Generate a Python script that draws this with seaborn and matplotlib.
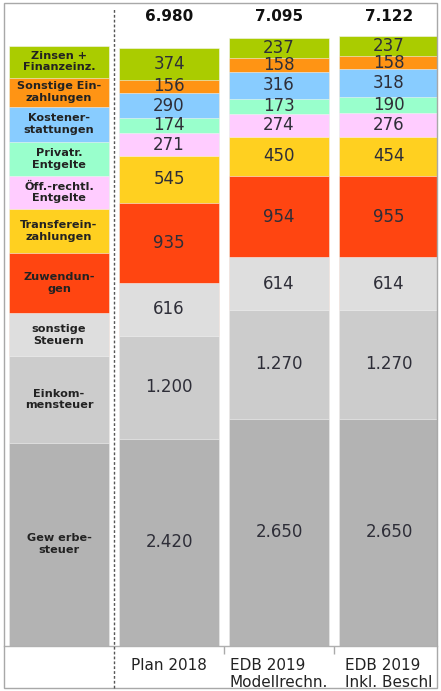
import matplotlib
matplotlib.use("Agg")
import matplotlib.pyplot as plt
import matplotlib.transforms as mtransforms
from matplotlib.patches import Rectangle
from matplotlib.lines import Line2D
import numpy as np
import seaborn as sns

# ---------------- data ----------------
columns = ["", "Plan 2018", "EDB 2019\nModellrechn.", "EDB 2019\nInkl. Beschl"]
series = ["Gewerbesteuer", "Einkommensteuer", "sonstige Steuern", "Zuwendungen",
          "Transfereinzahlungen", "Öff.-rechtl. Entgelte", "Privatr. Entgelte",
          "Kostenerstattungen", "Sonstige Einzahlungen", "Zinsen + Finanzeinz."]
legend_labels = ["Gew erbe-\nsteuer", "Einkom-\nmensteuer", "sonstige\nSteuern",
                 "Zuwendun-\ngen", "Transferein-\nzahlungen", "Öff.-rechtl.\nEntgelte",
                 "Privatr.\nEntgelte", "Kostener-\nstattungen", "Sonstige Ein-\nzahlungen",
                 "Zinsen +\nFinanzeinz."]
legend_heights = [2374, 1006, 503, 702, 515, 386, 398, 409, 339, 374]
plan_2018 = [2420, 1200, 616, 935, 545, 271, 174, 290, 156, 374]
edb_modell = [2650, 1270, 614, 954, 450, 274, 173, 316, 158, 237]
edb_beschl = [2650, 1270, 614, 955, 454, 276, 190, 318, 158, 237]
totals = ["6.980", "7.095", "7.122"]
colors = ["#b3b3b3", "#cccccc", "#dedede", "#ff4511", "#ffd020", "#ffccff",
          "#99ffcc", "#88ccff", "#ff9414", "#aacc00"]

# ---------------- figure ----------------
sns.set_theme(style="white")
plt.rcParams["font.family"] = ["DejaVu Sans"]

W, H = 441, 691
fig = plt.figure(figsize=(W / 100, H / 100), dpi=100)
ax = fig.add_axes([4 / W, 45 / H, 433 / W, 642 / H])

values = np.array([legend_heights, plan_2018, edb_modell, edb_beschl], dtype=float)  # (4, 10)
cum = np.cumsum(values, axis=1)

for k in range(len(series) - 1, -1, -1):
    sns.barplot(x=columns, y=cum[:, k], order=columns, color=colors[k],
                width=0.91, saturation=1, errorbar=None, ax=ax,
                edgecolor="#f4f4f4", linewidth=0.4)

ax.set_xlim(-0.5, 3.436)
ax.set_ylim(0, 7491)
ax.set_yticks([])
ax.set_ylabel("")

# value labels in bars
def fmt(v):
    return f"{int(v):,}".replace(",", ".")

for j in range(1, 4):
    bottoms = cum[j] - values[j]
    for k in range(len(series)):
        ax.text(j, bottoms[k] + values[j, k] / 2, fmt(values[j, k]), ha="center",
                va="center", fontsize=12, color="#2e2e38")

# legend column text
bottoms0 = cum[0] - values[0]
for k in range(len(series)):
    ax.text(0, bottoms0[k] + values[0, k] / 2, legend_labels[k], ha="center",
            va="center", fontsize=8.1, fontweight="bold", color="#222222",
            linespacing=1.2)

# totals
tr = mtransforms.blended_transform_factory(ax.transData, ax.transAxes)
for j, t in enumerate(totals, start=1):
    ax.text(j, 0.98, t, transform=tr, ha="center", va="center", fontsize=11,
            fontweight="bold", color="#111111")

# axes styling
for s in ["left", "right", "top"]:
    ax.spines[s].set_visible(False)
ax.spines["bottom"].set_color("#b0b0b0")
ax.spines["bottom"].set_linewidth(1)
ax.set_xticks([0, 1, 2, 3])
ax.set_xticklabels(columns, fontsize=11, color="#222222", linespacing=1.15)
for lbl in ax.get_xticklabels():
    lbl.set_multialignment("left")
ax.tick_params(axis="x", which="major", length=0, pad=9)
ax.set_xticks([1.5, 2.5], minor=True)
ax.tick_params(axis="x", which="minor", length=6, width=1, color="#aaaaaa",
               direction="out", bottom=True)

# outer frame
fig.patches.append(Rectangle((4 / W, 3 / H), 433 / W, 685 / H, transform=fig.transFigure,
                             fill=False, edgecolor="#a8a8a8", linewidth=1))
# dashed separator
trf = mtransforms.blended_transform_factory(ax.transData, fig.transFigure)
fig.lines.append(Line2D([0.5, 0.5], [3 / H, 683 / H], transform=trf, color="#555555",
                        linewidth=1, linestyle=(0, (2, 1.5))))

fig.savefig("out.png", dpi=100)
